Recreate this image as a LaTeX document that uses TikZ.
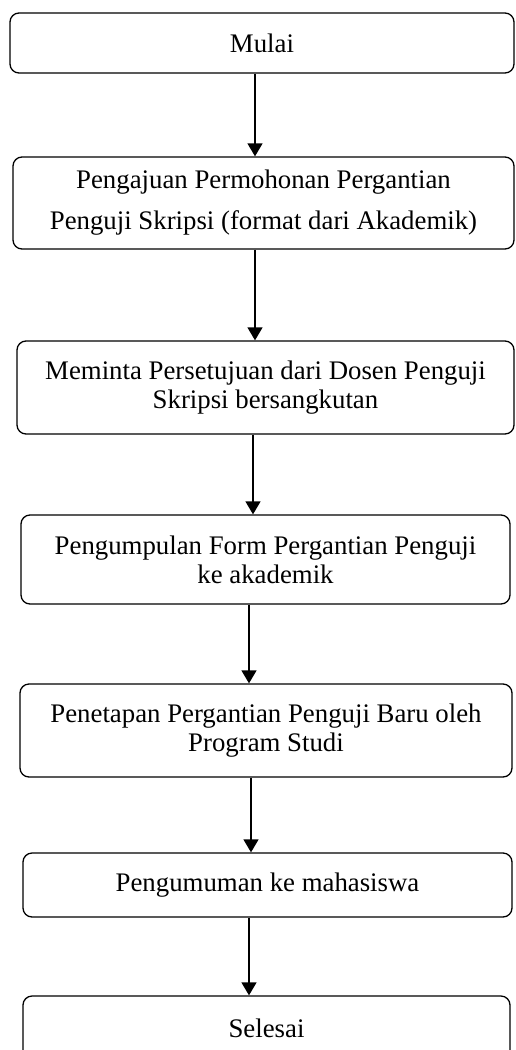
\documentclass[tikz,border=0pt]{standalone}
\usepackage{fontspec}
\setmainfont{Liberation Serif}
\usetikzlibrary{arrows.meta}
\begin{document}
\begin{tikzpicture}[x=1pt,y=-1pt,
  box/.style={draw, line width=1.3pt, rounded corners=9pt, inner sep=0pt, align=center,
    font=\fontsize{26.8}{29}\selectfont},
  arr/.style={line width=1.3pt, -{Triangle[length=13pt,width=15pt]}}]
\useasboundingbox (0,0) rectangle (515,1050);
\node[box, minimum width=504pt, minimum height=60pt] (b1) at (262,43) {Mulai};
\node[box, minimum width=501pt, minimum height=92pt, font=\fontsize{26.8}{41}\selectfont] (b2) at (263.5,203) {Pengajuan Permohonan Pergantian\\Penguji Skripsi (format dari Akademik)};
\node[box, minimum width=497pt, minimum height=93pt] (b3) at (265.5,387.5) {Meminta Persetujuan dari Dosen Penguji\\Skripsi bersangkutan};
\node[box, minimum width=489pt, minimum height=89pt] (b4) at (265.5,559.5) {Pengumpulan Form Pergantian Penguji\\ke akademik};
\node[box, minimum width=492pt, minimum height=93pt] (b5) at (266,730.5) {Penetapan Pergantian Penguji Baru oleh\\Program Studi};
\node[box, minimum width=489pt, minimum height=64pt] (b6) at (267.5,885) {Pengumuman ke mahasiswa};
\node[box, minimum width=487pt, minimum height=64pt] (b7) at (266.5,1028) {Selesai};
\draw[arr] ([xshift=-7pt]b1.south) -- ([xshift=-7pt]b1.south |- b2.north);
\draw[arr] ([xshift=-8.5pt]b2.south) -- ([xshift=-8.5pt]b2.south |- b3.north);
\draw[arr] ([xshift=-12.5pt]b3.south) -- ([xshift=-12.5pt]b3.south |- b4.north);
\draw[arr] ([xshift=-16.5pt]b4.south) -- ([xshift=-16.5pt]b4.south |- b5.north);
\draw[arr] ([xshift=-15pt]b5.south) -- ([xshift=-15pt]b5.south |- b6.north);
\draw[arr] ([xshift=-18.5pt]b6.south) -- ([xshift=-18.5pt]b6.south |- b7.north);
\end{tikzpicture}
\end{document}
